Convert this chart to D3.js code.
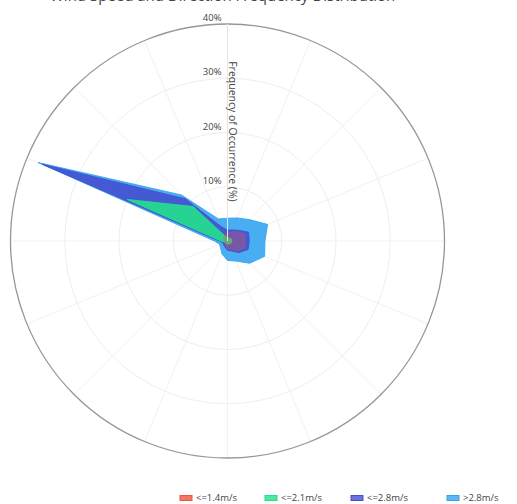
<!DOCTYPE html>
<html>
<head>
<meta charset="utf-8">
<script src="https://cdn.jsdelivr.net/npm/d3@7"></script>
<style>
  html, body { margin: 0; padding: 0; background: #fff; }
  svg { display: block; font-family: "Open Sans", "DejaVu Sans", sans-serif; }
</style>
</head>
<body>
<svg id="chart" width="517" height="504"></svg>
<script>
// Compass sectors, clockwise from north
const directions = ["N","NNE","NE","ENE","E","ESE","SE","SSE","S","SSW","SW","WSW","W","WNW","NW","NNW"];

// Frequency (%) per sector for each wind-speed class
const speedOver28 = [4.2, 4.6, 5.6, 8.0, 6.9, 7.4, 5.8, 4.0, 3.6, 2.6, 1.8, 1.6, 2.4, 37.8, 12.0, 4.4];
const speedUpTo28 = [2.0, 2.2, 2.8, 4.2, 4.0, 4.1, 3.0, 2.0, 1.7, 1.2, 1.0, 0.9, 1.5, 37.0, 11.0, 2.8];
const speedUpTo21 = [0.6, 0.6, 0.7, 0.8, 0.8, 0.8, 0.7, 0.6, 0.6, 0.5, 0.5, 0.5, 1.2, 20.0, 9.0, 0.9];
const speedUpTo14 = [1.4, 1.8, 2.4, 3.4, 3.3, 3.4, 2.5, 1.6, 1.4, 1.0, 0.7, 0.5, 0.6, 0.8, 1.0, 1.2];

const seriesNames = ["<=1.4m/s", "<=2.1m/s", "<=2.8m/s", ">2.8m/s"];
const seriesColors = ["#ef553b", "#22e08c", "#4650d2", "#34a4f0"];
const radialTicks = [10, 20, 30, 40];
const radialTitle = "Frequency of Occurrence (%)";
const chartTitle = "Wind Speed and Direction Frequency Distribution";

const svg = d3.select("#chart");
const cx = 227.5, cy = 241, outerR = 217;

const r = d3.scaleLinear().domain([0, 40]).range([0, outerR]);
const angle = d3.scaleBand().domain(directions).range([0, 2 * Math.PI]).align(0).paddingInner(0).paddingOuter(0);
const theta = d => angle(d);

// Title (sits at the very top edge)
svg.append("text")
  .attr("x", 50).attr("y", 1)
  .attr("fill", "#444").attr("font-size", 15)
  .text(chartTitle);

const g = svg.append("g").attr("transform", `translate(${cx},${cy})`);

// Angular grid (one spoke per sector)
g.append("g").selectAll("line").data(directions).join("line")
  .attr("x1", 0).attr("y1", 0)
  .attr("x2", d => outerR * Math.sin(theta(d)))
  .attr("y2", d => -outerR * Math.cos(theta(d)))
  .attr("stroke", "#f1f1f1").attr("stroke-width", 1);

// Radial grid circles
g.append("g").selectAll("circle").data(radialTicks.slice(0, -1)).join("circle")
  .attr("r", d => r(d))
  .attr("fill", "none").attr("stroke", "#eee").attr("stroke-width", 1);

// Outer boundary
g.append("circle").attr("r", r(40))
  .attr("fill", "none").attr("stroke", "#969696").attr("stroke-width", 1.3);

// Filled speed-class polygons, widest class underneath
const radial = d3.lineRadial()
  .angle((d, i) => theta(directions[i]))
  .radius(d => r(d))
  .curve(d3.curveLinearClosed);

const layers = [
  { values: speedOver28, color: seriesColors[3], op: 0.9 },
  { values: speedUpTo28, color: seriesColors[2], op: 0.9 },
  { values: speedUpTo21, color: seriesColors[1], op: 0.9 },
  { values: speedUpTo14, color: seriesColors[0], op: 0.3 }
];
g.append("g").selectAll("path").data(layers).join("path")
  .attr("d", d => radial(d.values))
  .attr("fill", d => d.color).attr("fill-opacity", d => d.op)
  .attr("stroke", d => d.color).attr("stroke-opacity", d => d.op).attr("stroke-width", 1)
  .attr("stroke-linejoin", "round");

// Radial axis line, tick labels and title along the north spoke
g.append("line").attr("x1", 0).attr("y1", 0).attr("x2", 0).attr("y2", -r(40))
  .attr("stroke", "#e4e4e4").attr("stroke-width", 1);

g.append("g").selectAll("text").data(radialTicks).join("text")
  .attr("x", -6).attr("y", d => -r(d) - 3)
  .attr("text-anchor", "end")
  .attr("fill", "#444").attr("font-size", 9.5)
  .text(d => d + "%");

g.append("text")
  .attr("transform", `translate(5,${-r(20.2)}) rotate(90)`)
  .attr("text-anchor", "middle")
  .attr("dy", "0.35em")
  .attr("fill", "#444").attr("font-size", 10.5)
  .text(radialTitle);

// Horizontal legend at the bottom right
const legendX = [180, 265, 351, 447];
const legend = svg.append("g").attr("transform", "translate(0,498)");
const items = legend.selectAll("g").data(seriesNames).join("g")
  .attr("transform", (d, i) => `translate(${legendX[i]},0)`);
items.append("rect")
  .attr("x", 0).attr("y", -2.5).attr("width", 12).attr("height", 5)
  .attr("fill", (d, i) => seriesColors[i]).attr("fill-opacity", 0.8)
  .attr("stroke", (d, i) => seriesColors[i]).attr("stroke-width", 1);
items.append("text")
  .attr("x", 16).attr("dy", "0.35em")
  .attr("fill", "#444").attr("font-size", 9.5)
  .text(d => d);
</script>
</body>
</html>
